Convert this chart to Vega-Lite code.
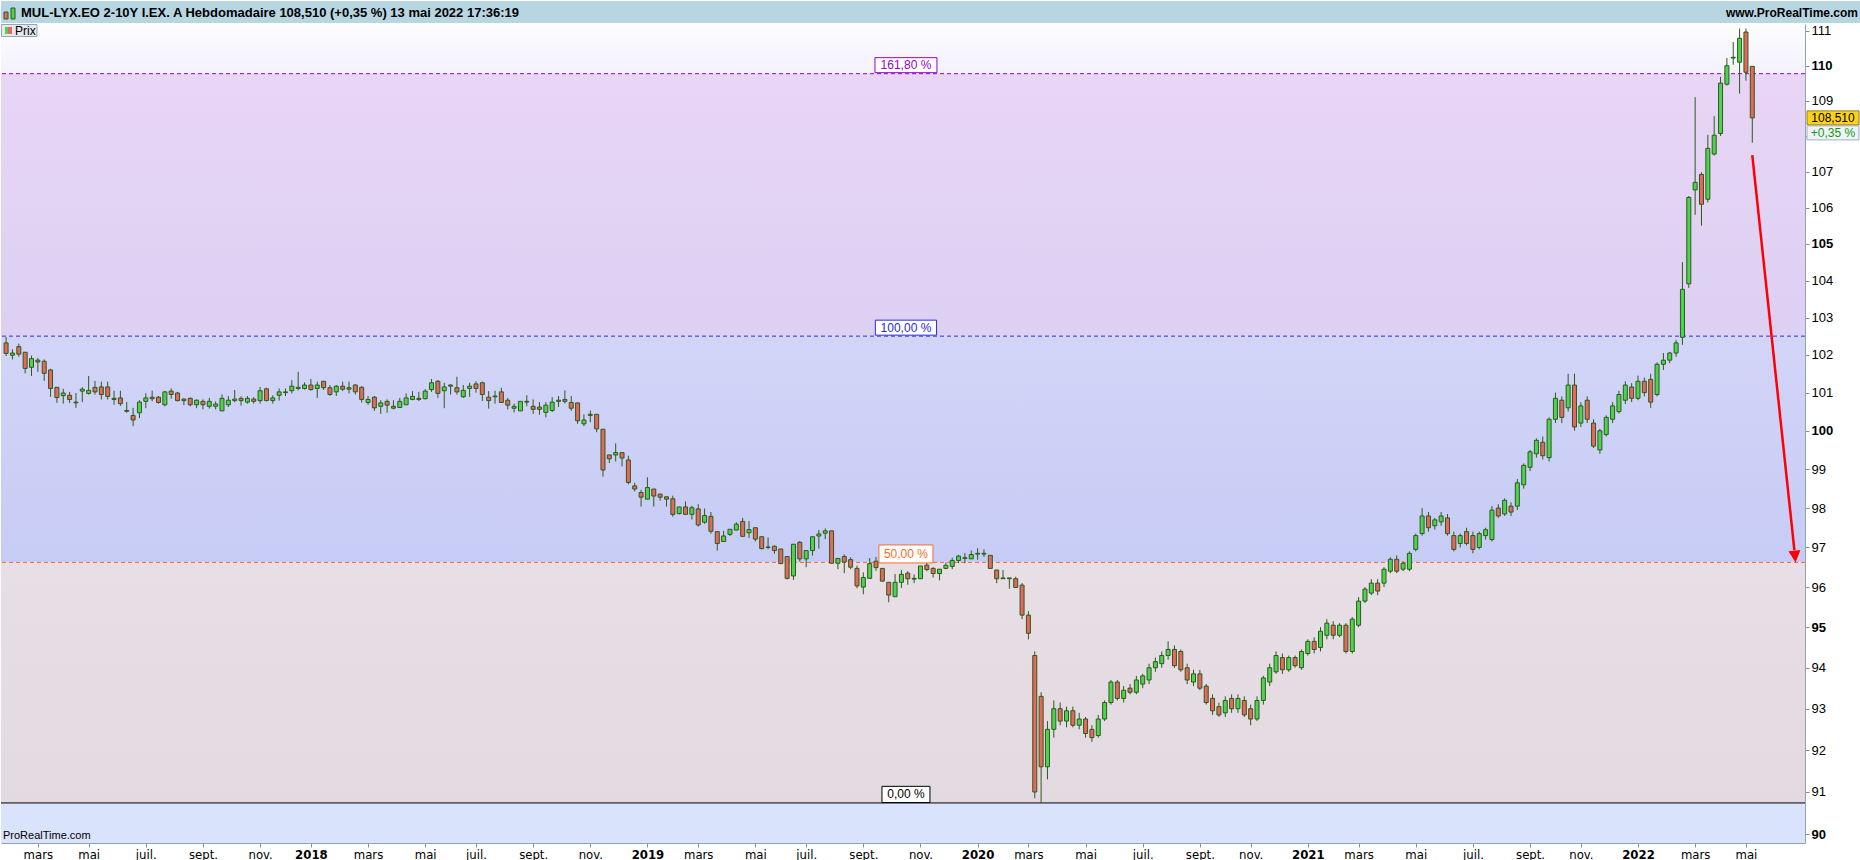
{
"$schema": "https://vega.github.io/schema/vega-lite/v6.json",
"padding": 0,
"autosize": {"type": "pad"},
"background": "#ffffff",
"spacing": 0,
"config": {"view": {"stroke": null}, "font": "Liberation Sans"},
"datasets": {
"candles": [
{"d":"2017-02-03","o":102.32,"h":102.48,"l":101.97,"c":102.04},
{"d":"2017-02-10","o":101.99,"h":102.15,"l":101.88,"c":102.05},
{"d":"2017-02-17","o":102.22,"h":102.30,"l":101.95,"c":102.02},
{"d":"2017-02-24","o":102.07,"h":102.07,"l":101.51,"c":101.64},
{"d":"2017-03-03","o":101.67,"h":101.98,"l":101.44,"c":101.90},
{"d":"2017-03-10","o":101.86,"h":101.92,"l":101.55,"c":101.81},
{"d":"2017-03-17","o":101.83,"h":101.88,"l":101.31,"c":101.51},
{"d":"2017-03-24","o":101.60,"h":101.63,"l":100.89,"c":101.11},
{"d":"2017-03-31","o":101.14,"h":101.14,"l":100.73,"c":100.87},
{"d":"2017-04-07","o":100.92,"h":101.10,"l":100.71,"c":100.99},
{"d":"2017-04-14","o":100.93,"h":101.02,"l":100.73,"c":100.82},
{"d":"2017-04-21","o":100.75,"h":100.99,"l":100.60,"c":100.73},
{"d":"2017-04-28","o":101.04,"h":101.14,"l":100.75,"c":101.09},
{"d":"2017-05-05","o":100.98,"h":101.44,"l":100.95,"c":101.06},
{"d":"2017-05-12","o":101.14,"h":101.31,"l":100.95,"c":101.02},
{"d":"2017-05-19","o":101.15,"h":101.29,"l":100.82,"c":100.95},
{"d":"2017-05-26","o":101.15,"h":101.29,"l":100.82,"c":100.90},
{"d":"2017-06-02","o":100.85,"h":101.05,"l":100.68,"c":100.82},
{"d":"2017-06-09","o":100.86,"h":101.05,"l":100.65,"c":100.71},
{"d":"2017-06-16","o":100.53,"h":100.75,"l":100.47,"c":100.51},
{"d":"2017-06-23","o":100.40,"h":100.60,"l":100.12,"c":100.28},
{"d":"2017-06-30","o":100.47,"h":100.80,"l":100.33,"c":100.75},
{"d":"2017-07-07","o":100.77,"h":100.98,"l":100.59,"c":100.86},
{"d":"2017-07-14","o":100.88,"h":101.05,"l":100.77,"c":100.84},
{"d":"2017-07-21","o":100.88,"h":100.91,"l":100.71,"c":100.74},
{"d":"2017-07-28","o":100.68,"h":101.04,"l":100.64,"c":101.02},
{"d":"2017-08-04","o":101.04,"h":101.11,"l":100.84,"c":100.95},
{"d":"2017-08-11","o":100.99,"h":101.02,"l":100.77,"c":100.79},
{"d":"2017-08-18","o":100.83,"h":100.85,"l":100.67,"c":100.79},
{"d":"2017-08-25","o":100.85,"h":100.87,"l":100.64,"c":100.68},
{"d":"2017-09-01","o":100.68,"h":100.82,"l":100.59,"c":100.80},
{"d":"2017-09-08","o":100.77,"h":100.82,"l":100.56,"c":100.68},
{"d":"2017-09-15","o":100.64,"h":100.86,"l":100.58,"c":100.77},
{"d":"2017-09-22","o":100.64,"h":100.77,"l":100.56,"c":100.70},
{"d":"2017-09-29","o":100.52,"h":100.95,"l":100.52,"c":100.85},
{"d":"2017-10-06","o":100.68,"h":100.91,"l":100.62,"c":100.80},
{"d":"2017-10-13","o":100.79,"h":101.07,"l":100.75,"c":100.83},
{"d":"2017-10-20","o":100.85,"h":100.90,"l":100.66,"c":100.79},
{"d":"2017-10-27","o":100.75,"h":100.91,"l":100.71,"c":100.85},
{"d":"2017-11-03","o":100.83,"h":100.88,"l":100.71,"c":100.77},
{"d":"2017-11-10","o":100.79,"h":101.15,"l":100.71,"c":101.05},
{"d":"2017-11-17","o":101.10,"h":101.13,"l":100.77,"c":100.79},
{"d":"2017-11-24","o":100.79,"h":100.93,"l":100.71,"c":100.86},
{"d":"2017-12-01","o":100.93,"h":101.11,"l":100.79,"c":101.02},
{"d":"2017-12-08","o":101.02,"h":101.11,"l":100.91,"c":101.00},
{"d":"2017-12-15","o":101.05,"h":101.33,"l":100.98,"c":101.17},
{"d":"2017-12-22","o":101.11,"h":101.55,"l":101.06,"c":101.14},
{"d":"2017-12-29","o":101.11,"h":101.27,"l":101.08,"c":101.20},
{"d":"2018-01-05","o":101.20,"h":101.36,"l":101.05,"c":101.08},
{"d":"2018-01-12","o":101.11,"h":101.29,"l":100.86,"c":101.20},
{"d":"2018-01-19","o":101.30,"h":101.30,"l":101.07,"c":101.13},
{"d":"2018-01-26","o":101.13,"h":101.20,"l":100.92,"c":100.95},
{"d":"2018-02-02","o":101.02,"h":101.20,"l":100.91,"c":101.17},
{"d":"2018-02-09","o":101.17,"h":101.29,"l":101.04,"c":101.09},
{"d":"2018-02-16","o":101.13,"h":101.29,"l":100.98,"c":101.09},
{"d":"2018-02-23","o":101.20,"h":101.22,"l":100.95,"c":101.02},
{"d":"2018-03-02","o":101.14,"h":101.17,"l":100.74,"c":100.82},
{"d":"2018-03-09","o":100.74,"h":100.91,"l":100.68,"c":100.82},
{"d":"2018-03-16","o":100.88,"h":100.91,"l":100.52,"c":100.60},
{"d":"2018-03-23","o":100.64,"h":100.80,"l":100.44,"c":100.73},
{"d":"2018-03-30","o":100.77,"h":100.82,"l":100.47,"c":100.67},
{"d":"2018-04-06","o":100.64,"h":100.80,"l":100.56,"c":100.59},
{"d":"2018-04-13","o":100.61,"h":100.86,"l":100.60,"c":100.77},
{"d":"2018-04-20","o":100.68,"h":100.98,"l":100.68,"c":100.86},
{"d":"2018-04-27","o":100.82,"h":101.04,"l":100.80,"c":100.90},
{"d":"2018-05-04","o":100.85,"h":101.02,"l":100.78,"c":100.82},
{"d":"2018-05-11","o":100.84,"h":101.09,"l":100.82,"c":101.04},
{"d":"2018-05-18","o":101.08,"h":101.36,"l":101.02,"c":101.26},
{"d":"2018-05-25","o":101.30,"h":101.33,"l":100.86,"c":100.98},
{"d":"2018-06-01","o":101.05,"h":101.26,"l":100.59,"c":101.15},
{"d":"2018-06-08","o":101.20,"h":101.22,"l":100.95,"c":101.17},
{"d":"2018-06-15","o":101.13,"h":101.42,"l":100.95,"c":101.02},
{"d":"2018-06-22","o":100.89,"h":101.20,"l":100.86,"c":101.06},
{"d":"2018-06-29","o":101.11,"h":101.26,"l":100.89,"c":101.17},
{"d":"2018-07-06","o":101.23,"h":101.30,"l":101.00,"c":101.11},
{"d":"2018-07-13","o":101.26,"h":101.29,"l":100.78,"c":100.95},
{"d":"2018-07-20","o":100.88,"h":101.04,"l":100.58,"c":100.79},
{"d":"2018-07-27","o":100.91,"h":101.05,"l":100.71,"c":100.89},
{"d":"2018-08-03","o":101.02,"h":101.13,"l":100.74,"c":100.74},
{"d":"2018-08-10","o":100.80,"h":100.86,"l":100.56,"c":100.67},
{"d":"2018-08-17","o":100.59,"h":100.71,"l":100.48,"c":100.64},
{"d":"2018-08-24","o":100.52,"h":100.77,"l":100.52,"c":100.77},
{"d":"2018-08-31","o":100.77,"h":100.93,"l":100.64,"c":100.75},
{"d":"2018-09-07","o":100.64,"h":100.82,"l":100.44,"c":100.56},
{"d":"2018-09-14","o":100.62,"h":100.75,"l":100.42,"c":100.56},
{"d":"2018-09-21","o":100.48,"h":100.75,"l":100.35,"c":100.67},
{"d":"2018-09-28","o":100.53,"h":100.88,"l":100.49,"c":100.75},
{"d":"2018-10-05","o":100.77,"h":100.91,"l":100.62,"c":100.80},
{"d":"2018-10-12","o":100.82,"h":101.06,"l":100.71,"c":100.77},
{"d":"2018-10-19","o":100.74,"h":100.91,"l":100.52,"c":100.59},
{"d":"2018-10-26","o":100.73,"h":100.73,"l":100.18,"c":100.26},
{"d":"2018-11-02","o":100.18,"h":100.43,"l":100.12,"c":100.28},
{"d":"2018-11-09","o":100.43,"h":100.53,"l":100.22,"c":100.40},
{"d":"2018-11-16","o":100.43,"h":100.43,"l":99.96,"c":100.05},
{"d":"2018-11-23","o":100.04,"h":100.04,"l":98.81,"c":98.98},
{"d":"2018-11-30","o":99.37,"h":99.37,"l":99.16,"c":99.27},
{"d":"2018-12-07","o":99.37,"h":99.67,"l":99.20,"c":99.43},
{"d":"2018-12-14","o":99.43,"h":99.43,"l":99.07,"c":99.29},
{"d":"2018-12-21","o":99.24,"h":99.35,"l":98.61,"c":98.66},
{"d":"2018-12-28","o":98.57,"h":98.65,"l":98.43,"c":98.49},
{"d":"2019-01-04","o":98.40,"h":98.47,"l":98.04,"c":98.28},
{"d":"2019-01-11","o":98.23,"h":98.79,"l":98.23,"c":98.53},
{"d":"2019-01-18","o":98.49,"h":98.49,"l":98.04,"c":98.31},
{"d":"2019-01-25","o":98.36,"h":98.36,"l":98.19,"c":98.28},
{"d":"2019-02-01","o":98.29,"h":98.29,"l":98.04,"c":98.23},
{"d":"2019-02-08","o":98.24,"h":98.32,"l":97.78,"c":97.84},
{"d":"2019-02-15","o":97.86,"h":98.03,"l":97.84,"c":98.03},
{"d":"2019-02-22","o":98.03,"h":98.17,"l":97.84,"c":97.84},
{"d":"2019-03-01","o":97.84,"h":98.06,"l":97.71,"c":98.01},
{"d":"2019-03-08","o":97.98,"h":98.10,"l":97.53,"c":97.57},
{"d":"2019-03-15","o":97.64,"h":97.99,"l":97.60,"c":97.81},
{"d":"2019-03-22","o":97.79,"h":97.90,"l":97.35,"c":97.41},
{"d":"2019-03-29","o":97.40,"h":97.40,"l":96.92,"c":97.10},
{"d":"2019-04-05","o":97.15,"h":97.42,"l":97.15,"c":97.29},
{"d":"2019-04-12","o":97.33,"h":97.46,"l":97.29,"c":97.46},
{"d":"2019-04-19","o":97.44,"h":97.64,"l":97.44,"c":97.59},
{"d":"2019-04-26","o":97.66,"h":97.75,"l":97.28,"c":97.28},
{"d":"2019-05-03","o":97.37,"h":97.67,"l":97.24,"c":97.45},
{"d":"2019-05-10","o":97.50,"h":97.50,"l":97.15,"c":97.21},
{"d":"2019-05-17","o":97.27,"h":97.29,"l":96.95,"c":96.97},
{"d":"2019-05-24","o":97.01,"h":97.25,"l":96.95,"c":97.00},
{"d":"2019-05-31","o":97.03,"h":97.05,"l":96.84,"c":96.92},
{"d":"2019-06-07","o":96.96,"h":96.96,"l":96.59,"c":96.59},
{"d":"2019-06-14","o":96.77,"h":96.77,"l":96.19,"c":96.22},
{"d":"2019-06-21","o":96.28,"h":97.08,"l":96.18,"c":97.08},
{"d":"2019-06-28","o":97.13,"h":97.16,"l":96.64,"c":96.71},
{"d":"2019-07-05","o":96.71,"h":96.92,"l":96.50,"c":96.92},
{"d":"2019-07-12","o":96.92,"h":97.27,"l":96.79,"c":97.27},
{"d":"2019-07-19","o":97.29,"h":97.44,"l":96.97,"c":97.34},
{"d":"2019-07-26","o":97.36,"h":97.48,"l":97.21,"c":97.42},
{"d":"2019-08-02","o":97.42,"h":97.42,"l":96.60,"c":96.60},
{"d":"2019-08-09","o":96.60,"h":96.72,"l":96.45,"c":96.72},
{"d":"2019-08-16","o":96.77,"h":96.82,"l":96.35,"c":96.63},
{"d":"2019-08-23","o":96.69,"h":96.75,"l":96.45,"c":96.50},
{"d":"2019-08-30","o":96.47,"h":96.54,"l":95.97,"c":96.03},
{"d":"2019-09-06","o":96.00,"h":96.37,"l":95.82,"c":96.24},
{"d":"2019-09-13","o":96.22,"h":96.73,"l":96.22,"c":96.59},
{"d":"2019-09-20","o":96.65,"h":96.76,"l":96.41,"c":96.49},
{"d":"2019-09-27","o":96.47,"h":96.47,"l":96.13,"c":96.15},
{"d":"2019-10-04","o":96.12,"h":96.12,"l":95.62,"c":95.80},
{"d":"2019-10-11","o":95.76,"h":96.33,"l":95.76,"c":96.12},
{"d":"2019-10-18","o":96.12,"h":96.43,"l":95.98,"c":96.32},
{"d":"2019-10-25","o":96.35,"h":96.40,"l":96.06,"c":96.21},
{"d":"2019-11-01","o":96.20,"h":96.32,"l":96.10,"c":96.22},
{"d":"2019-11-08","o":96.21,"h":96.53,"l":96.21,"c":96.53},
{"d":"2019-11-15","o":96.55,"h":96.62,"l":96.40,"c":96.44},
{"d":"2019-11-22","o":96.47,"h":96.50,"l":96.24,"c":96.34},
{"d":"2019-11-29","o":96.34,"h":96.45,"l":96.17,"c":96.45},
{"d":"2019-12-06","o":96.47,"h":96.62,"l":96.45,"c":96.55},
{"d":"2019-12-13","o":96.52,"h":96.74,"l":96.45,"c":96.67},
{"d":"2019-12-20","o":96.67,"h":96.81,"l":96.60,"c":96.78},
{"d":"2019-12-27","o":96.72,"h":96.86,"l":96.60,"c":96.74},
{"d":"2020-01-03","o":96.71,"h":96.92,"l":96.71,"c":96.82},
{"d":"2020-01-10","o":96.83,"h":96.98,"l":96.69,"c":96.85},
{"d":"2020-01-17","o":96.85,"h":96.95,"l":96.76,"c":96.83},
{"d":"2020-01-24","o":96.80,"h":96.80,"l":96.47,"c":96.47},
{"d":"2020-01-31","o":96.43,"h":96.43,"l":96.10,"c":96.21},
{"d":"2020-02-07","o":96.23,"h":96.43,"l":96.22,"c":96.21},
{"d":"2020-02-14","o":96.23,"h":96.23,"l":95.96,"c":96.21},
{"d":"2020-02-21","o":96.21,"h":96.26,"l":95.99,"c":95.99},
{"d":"2020-02-28","o":96.05,"h":96.10,"l":95.20,"c":95.30},
{"d":"2020-03-06","o":95.30,"h":95.40,"l":94.70,"c":94.85},
{"d":"2020-03-13","o":94.30,"h":94.40,"l":90.85,"c":91.00},
{"d":"2020-03-20","o":93.30,"h":93.40,"l":90.74,"c":91.60},
{"d":"2020-03-27","o":91.60,"h":92.70,"l":91.30,"c":92.50},
{"d":"2020-04-03","o":92.50,"h":93.20,"l":92.30,"c":93.00},
{"d":"2020-04-10","o":93.00,"h":93.15,"l":92.60,"c":92.70},
{"d":"2020-04-17","o":92.70,"h":93.05,"l":92.55,"c":92.95},
{"d":"2020-04-24","o":92.95,"h":93.05,"l":92.55,"c":92.60},
{"d":"2020-05-01","o":92.60,"h":92.90,"l":92.50,"c":92.75},
{"d":"2020-05-08","o":92.75,"h":92.80,"l":92.30,"c":92.40},
{"d":"2020-05-15","o":92.50,"h":92.60,"l":92.20,"c":92.30},
{"d":"2020-05-22","o":92.35,"h":92.85,"l":92.30,"c":92.75},
{"d":"2020-05-29","o":92.75,"h":93.20,"l":92.70,"c":93.15},
{"d":"2020-06-05","o":93.15,"h":93.70,"l":93.10,"c":93.65},
{"d":"2020-06-12","o":93.65,"h":93.70,"l":93.20,"c":93.25},
{"d":"2020-06-19","o":93.25,"h":93.55,"l":93.15,"c":93.45},
{"d":"2020-06-26","o":93.50,"h":93.60,"l":93.35,"c":93.40},
{"d":"2020-07-03","o":93.40,"h":93.80,"l":93.35,"c":93.70},
{"d":"2020-07-10","o":93.60,"h":93.85,"l":93.50,"c":93.80},
{"d":"2020-07-17","o":93.70,"h":94.10,"l":93.60,"c":94.00},
{"d":"2020-07-24","o":94.00,"h":94.25,"l":93.90,"c":94.15},
{"d":"2020-07-31","o":94.10,"h":94.40,"l":94.00,"c":94.30},
{"d":"2020-08-07","o":94.30,"h":94.65,"l":94.20,"c":94.45},
{"d":"2020-08-14","o":94.45,"h":94.55,"l":94.00,"c":94.05},
{"d":"2020-08-21","o":94.40,"h":94.45,"l":93.90,"c":93.95},
{"d":"2020-08-28","o":94.00,"h":94.10,"l":93.60,"c":93.70},
{"d":"2020-09-04","o":93.65,"h":93.95,"l":93.55,"c":93.85},
{"d":"2020-09-11","o":93.85,"h":93.95,"l":93.45,"c":93.50},
{"d":"2020-09-18","o":93.55,"h":93.60,"l":93.10,"c":93.15},
{"d":"2020-09-25","o":93.25,"h":93.35,"l":92.85,"c":92.95},
{"d":"2020-10-02","o":93.05,"h":93.15,"l":92.80,"c":92.85},
{"d":"2020-10-09","o":92.90,"h":93.30,"l":92.80,"c":93.20},
{"d":"2020-10-16","o":93.25,"h":93.35,"l":92.90,"c":93.00},
{"d":"2020-10-23","o":93.00,"h":93.35,"l":92.90,"c":93.25},
{"d":"2020-10-30","o":93.20,"h":93.30,"l":92.80,"c":92.85},
{"d":"2020-11-06","o":93.00,"h":93.10,"l":92.60,"c":92.75},
{"d":"2020-11-13","o":92.75,"h":93.30,"l":92.70,"c":93.20},
{"d":"2020-11-20","o":93.20,"h":93.80,"l":93.10,"c":93.75},
{"d":"2020-11-27","o":93.65,"h":94.10,"l":93.55,"c":94.00},
{"d":"2020-12-04","o":93.90,"h":94.40,"l":93.85,"c":94.30},
{"d":"2020-12-11","o":94.25,"h":94.35,"l":93.85,"c":93.95},
{"d":"2020-12-18","o":93.95,"h":94.30,"l":93.90,"c":94.25},
{"d":"2020-12-25","o":94.25,"h":94.30,"l":94.00,"c":94.05},
{"d":"2021-01-01","o":94.00,"h":94.45,"l":93.95,"c":94.40},
{"d":"2021-01-08","o":94.35,"h":94.70,"l":94.30,"c":94.65},
{"d":"2021-01-15","o":94.65,"h":94.75,"l":94.35,"c":94.45},
{"d":"2021-01-22","o":94.50,"h":95.00,"l":94.40,"c":94.90},
{"d":"2021-01-29","o":94.80,"h":95.20,"l":94.70,"c":95.10},
{"d":"2021-02-05","o":95.05,"h":95.15,"l":94.70,"c":94.80},
{"d":"2021-02-12","o":94.80,"h":95.10,"l":94.75,"c":95.05},
{"d":"2021-02-19","o":95.05,"h":95.10,"l":94.35,"c":94.40},
{"d":"2021-02-26","o":94.40,"h":95.25,"l":94.35,"c":95.20},
{"d":"2021-03-05","o":95.05,"h":95.75,"l":95.00,"c":95.65},
{"d":"2021-03-12","o":95.65,"h":96.00,"l":95.60,"c":95.95},
{"d":"2021-03-19","o":95.85,"h":96.20,"l":95.80,"c":96.10},
{"d":"2021-03-26","o":96.10,"h":96.20,"l":95.80,"c":95.90},
{"d":"2021-04-02","o":96.10,"h":96.50,"l":96.00,"c":96.45},
{"d":"2021-04-09","o":96.40,"h":96.75,"l":96.35,"c":96.70},
{"d":"2021-04-16","o":96.70,"h":96.80,"l":96.35,"c":96.40},
{"d":"2021-04-23","o":96.45,"h":96.65,"l":96.40,"c":96.60},
{"d":"2021-04-30","o":96.45,"h":96.90,"l":96.40,"c":96.85},
{"d":"2021-05-07","o":96.95,"h":97.35,"l":96.90,"c":97.30},
{"d":"2021-05-14","o":97.35,"h":98.00,"l":97.30,"c":97.80},
{"d":"2021-05-21","o":97.80,"h":97.90,"l":97.40,"c":97.50},
{"d":"2021-05-28","o":97.55,"h":97.75,"l":97.45,"c":97.70},
{"d":"2021-06-04","o":97.65,"h":97.90,"l":97.55,"c":97.80},
{"d":"2021-06-11","o":97.75,"h":97.85,"l":97.30,"c":97.35},
{"d":"2021-06-18","o":97.30,"h":97.40,"l":96.90,"c":96.95},
{"d":"2021-06-25","o":97.10,"h":97.35,"l":97.00,"c":97.30},
{"d":"2021-07-02","o":97.40,"h":97.50,"l":97.05,"c":97.10},
{"d":"2021-07-09","o":97.30,"h":97.40,"l":96.85,"c":96.95},
{"d":"2021-07-16","o":97.00,"h":97.40,"l":96.95,"c":97.35},
{"d":"2021-07-23","o":97.30,"h":97.50,"l":97.20,"c":97.45},
{"d":"2021-07-30","o":97.20,"h":98.05,"l":97.15,"c":97.95},
{"d":"2021-08-06","o":98.00,"h":98.10,"l":97.75,"c":97.80},
{"d":"2021-08-13","o":97.85,"h":98.25,"l":97.80,"c":98.20},
{"d":"2021-08-20","o":98.05,"h":98.15,"l":97.80,"c":97.90},
{"d":"2021-08-27","o":98.05,"h":98.75,"l":97.95,"c":98.65},
{"d":"2021-09-03","o":98.60,"h":99.15,"l":98.50,"c":99.10},
{"d":"2021-09-10","o":99.05,"h":99.50,"l":98.95,"c":99.45},
{"d":"2021-09-17","o":99.40,"h":99.80,"l":99.30,"c":99.75},
{"d":"2021-09-24","o":99.70,"h":99.85,"l":99.25,"c":99.35},
{"d":"2021-10-01","o":99.30,"h":100.35,"l":99.20,"c":100.30},
{"d":"2021-10-08","o":100.30,"h":101.00,"l":100.20,"c":100.85},
{"d":"2021-10-15","o":100.80,"h":100.90,"l":100.20,"c":100.35},
{"d":"2021-10-22","o":100.60,"h":101.50,"l":100.50,"c":101.20},
{"d":"2021-10-29","o":101.20,"h":101.50,"l":100.00,"c":100.10},
{"d":"2021-11-05","o":100.20,"h":100.75,"l":100.10,"c":100.65},
{"d":"2021-11-12","o":100.80,"h":100.90,"l":100.20,"c":100.30},
{"d":"2021-11-19","o":100.20,"h":100.30,"l":99.55,"c":99.60},
{"d":"2021-11-26","o":99.50,"h":100.05,"l":99.40,"c":100.00},
{"d":"2021-12-03","o":99.90,"h":100.40,"l":99.85,"c":100.35},
{"d":"2021-12-10","o":100.30,"h":100.75,"l":100.20,"c":100.65},
{"d":"2021-12-17","o":100.50,"h":101.05,"l":100.45,"c":100.95},
{"d":"2021-12-24","o":100.80,"h":101.30,"l":100.70,"c":101.20},
{"d":"2021-12-31","o":101.15,"h":101.25,"l":100.75,"c":100.85},
{"d":"2022-01-07","o":100.85,"h":101.45,"l":100.80,"c":101.30},
{"d":"2022-01-14","o":101.30,"h":101.40,"l":100.90,"c":101.00},
{"d":"2022-01-21","o":101.35,"h":101.50,"l":100.60,"c":100.75},
{"d":"2022-01-28","o":100.95,"h":101.80,"l":100.90,"c":101.75},
{"d":"2022-02-04","o":101.75,"h":102.05,"l":101.60,"c":101.86},
{"d":"2022-02-11","o":101.86,"h":102.08,"l":101.78,"c":102.05},
{"d":"2022-02-18","o":102.05,"h":102.40,"l":101.95,"c":102.32},
{"d":"2022-02-25","o":102.47,"h":104.50,"l":102.27,"c":103.76},
{"d":"2022-03-04","o":103.91,"h":106.32,"l":103.80,"c":106.28},
{"d":"2022-03-11","o":106.49,"h":109.10,"l":105.80,"c":106.70},
{"d":"2022-03-18","o":106.92,"h":106.98,"l":105.50,"c":106.09},
{"d":"2022-03-25","o":106.23,"h":108.03,"l":106.14,"c":107.65},
{"d":"2022-04-01","o":107.49,"h":108.56,"l":107.45,"c":108.02},
{"d":"2022-04-08","o":108.07,"h":109.68,"l":108.00,"c":109.50},
{"d":"2022-04-15","o":109.47,"h":110.22,"l":109.43,"c":110.00},
{"d":"2022-04-22","o":110.22,"h":110.68,"l":110.03,"c":110.24},
{"d":"2022-04-29","o":110.10,"h":111.07,"l":109.20,"c":110.79},
{"d":"2022-05-06","o":110.97,"h":111.07,"l":109.57,"c":109.81},
{"d":"2022-05-13","o":109.98,"h":109.98,"l":107.81,"c":108.51}
],
"levels": [
{"name":"161,80 %","v":109.77},
{"name":"100,00 %","v":102.50},
{"name":"50,00 %","v":96.62},
{"name":"0,00 %","v":90.74}
]
},
"vconcat": [
{
"width": 1860,
"height": 22,
"view": {"fill": "#b8d6e2", "stroke": null},
"data": {"values": [{"t": "MUL-LYX.EO 2-10Y I.EX. A Hebdomadaire 108,510 (+0,35 %) 13 mai 2022 17:36:19", "site": "www.ProRealTime.com"}]},
"layer": [
{"mark": {"type": "rect", "x": 3, "x2": 7, "y": 11, "y2": 18, "fill": "#e8665c", "stroke": "#2b5b1c", "strokeWidth": 1}},
{"mark": {"type": "rect", "x": 10, "x2": 14, "y": 7, "y2": 18, "fill": "#4fd24f", "stroke": "#2b5b1c", "strokeWidth": 1}},
{"mark": {"type": "rule", "x": 0, "x2": 1860, "y": 21.5, "y2": 21.5, "stroke": "#7d98aa", "strokeWidth": 1}, "encoding": {}},
{"mark": {"type": "text", "x": 20, "y": 12, "align": "left", "baseline": "middle", "fontWeight": "bold", "fontSize": 13, "font": "Liberation Sans", "color": "#000000"}, "encoding": {"text": {"field": "t"}}},
{"mark": {"type": "text", "x": 1857, "y": 12, "align": "right", "baseline": "middle", "fontWeight": "bold", "fontSize": 12, "font": "Liberation Sans", "color": "#000000"}, "encoding": {"text": {"field": "site"}}}
]
},
{
"width": 1804,
"height": 819,
"view": {"stroke": null},
"layer": [
{"data": {"values": [{"lo": 109.77, "hi": 111.203}]},
 "mark": {"type": "rect", "fill": {"gradient": "linear", "x1": 0, "y1": 0, "x2": 0, "y2": 1, "stops": [{"offset": 0, "color": "#fdfdff"}, {"offset": 1, "color": "#f3f1fc"}]}},
 "encoding": {"y": {"field": "lo", "type": "quantitative", "scale": {"type": "log", "domain": [89.796, 111.203], "nice": false, "zero": false, "padding": 0}}, "y2": {"field": "hi"}}},
{"data": {"values": [{"lo": 102.5, "hi": 109.77}]},
 "mark": {"type": "rect", "fill": {"gradient": "linear", "x1": 0, "y1": 0, "x2": 0, "y2": 1, "stops": [{"offset": 0, "color": "#e9d5f5"}, {"offset": 1, "color": "#dcd0f3"}]}},
 "encoding": {"y": {"field": "lo", "type": "quantitative"}, "y2": {"field": "hi"}}},
{"data": {"values": [{"lo": 96.62, "hi": 102.5}]},
 "mark": {"type": "rect", "fill": {"gradient": "linear", "x1": 0, "y1": 0, "x2": 0, "y2": 1, "stops": [{"offset": 0, "color": "#d2d5f7"}, {"offset": 1, "color": "#c7ccf6"}]}},
 "encoding": {"y": {"field": "lo", "type": "quantitative"}, "y2": {"field": "hi"}}},
{"data": {"values": [{"lo": 90.74, "hi": 96.62}]},
 "mark": {"type": "rect", "fill": {"gradient": "linear", "x1": 0, "y1": 0, "x2": 0, "y2": 1, "stops": [{"offset": 0, "color": "#e8dee6"}, {"offset": 1, "color": "#e2d9e1"}]}},
 "encoding": {"y": {"field": "lo", "type": "quantitative"}, "y2": {"field": "hi"}}},
{"data": {"values": [{"lo": 89.796, "hi": 90.74}]},
 "mark": {"type": "rect", "fill": "#d9e3fb"},
 "encoding": {"y": {"field": "lo", "type": "quantitative"}, "y2": {"field": "hi"}}},
{"data": {"name": "levels"},
 "mark": {"type": "rule", "strokeWidth": 1},
 "encoding": {
  "y": {"field": "v", "type": "quantitative"},
  "color": {"field": "name", "type": "nominal", "scale": {"domain": ["161,80 %", "100,00 %", "50,00 %", "0,00 %"], "range": ["#9400d0", "#2a2ae6", "#ff6a28", "#000000"]}, "legend": null},
  "strokeDash": {"field": "name", "type": "nominal", "scale": {"domain": ["161,80 %", "100,00 %", "50,00 %", "0,00 %"], "range": [[4, 3], [4, 3], [4, 3], [1, 0]]}, "legend": null}
 }},
{"data": {"name": "candles"},
 "mark": {"type": "rule", "stroke": "#2b5b1c", "strokeWidth": 1},
 "encoding": {
  "x": {"field": "d", "type": "temporal", "scale": {"type": "utc", "nice": false, "padding": 0, "domain": [{"year": 2017, "month": 1, "date": 28, "hours": 9, "utc": true}, {"year": 2022, "month": 7, "date": 10, "hours": 2, "minutes": 30, "utc": true}]},
   "axis": {"orient": "bottom", "title": null, "grid": false,
    "values": [
     {"year": 2017, "month": 3, "date": 10, "utc": true}, {"year": 2017, "month": 5, "date": 5, "utc": true}, {"year": 2017, "month": 7, "date": 7, "utc": true}, {"year": 2017, "month": 9, "date": 8, "utc": true}, {"year": 2017, "month": 11, "date": 10, "utc": true},
     {"year": 2018, "month": 1, "date": 5, "utc": true}, {"year": 2018, "month": 3, "date": 9, "utc": true}, {"year": 2018, "month": 5, "date": 11, "utc": true}, {"year": 2018, "month": 7, "date": 6, "utc": true}, {"year": 2018, "month": 9, "date": 7, "utc": true}, {"year": 2018, "month": 11, "date": 9, "utc": true},
     {"year": 2019, "month": 1, "date": 11, "utc": true}, {"year": 2019, "month": 3, "date": 8, "utc": true}, {"year": 2019, "month": 5, "date": 10, "utc": true}, {"year": 2019, "month": 7, "date": 5, "utc": true}, {"year": 2019, "month": 9, "date": 6, "utc": true}, {"year": 2019, "month": 11, "date": 8, "utc": true},
     {"year": 2020, "month": 1, "date": 10, "utc": true}, {"year": 2020, "month": 3, "date": 6, "utc": true}, {"year": 2020, "month": 5, "date": 8, "utc": true}, {"year": 2020, "month": 7, "date": 10, "utc": true}, {"year": 2020, "month": 9, "date": 11, "utc": true}, {"year": 2020, "month": 11, "date": 6, "utc": true},
     {"year": 2021, "month": 1, "date": 8, "utc": true}, {"year": 2021, "month": 3, "date": 5, "utc": true}, {"year": 2021, "month": 5, "date": 7, "utc": true}, {"year": 2021, "month": 7, "date": 9, "utc": true}, {"year": 2021, "month": 9, "date": 10, "utc": true}, {"year": 2021, "month": 11, "date": 5, "utc": true},
     {"year": 2022, "month": 1, "date": 7, "utc": true}, {"year": 2022, "month": 3, "date": 11, "utc": true}, {"year": 2022, "month": 5, "date": 6, "utc": true}
    ],
    "labelExpr": "utcmonth(datum.value) === 0 ? '' + utcyear(datum.value) : ['janv.','févr.','mars','avr.','mai','juin','juil.','août','sept.','oct.','nov.','déc.'][utcmonth(datum.value)]",
    "labelFontWeight": {"condition": {"test": "utcmonth(datum.value) === 0", "value": "bold"}, "value": "normal"},
    "labelFont": "Liberation Sans Narrow, DejaVu Sans Condensed, Liberation Sans",
    "labelFontSize": 13, "labelColor": "#000000", "labelPadding": 1, "labelOverlap": false, "labelFlush": false,
    "tickSize": 4, "tickColor": "#7890a0", "domainColor": "#8ea4b2"}},
  "y": {"field": "l", "type": "quantitative",
   "axis": {"orient": "right", "title": null, "grid": false,
    "values": [90, 91, 92, 93, 94, 95, 96, 97, 98, 99, 100, 101, 102, 103, 104, 105, 106, 107, 108, 109, 110, 111],
    "format": "d",
    "labelExpr": "datum.value === 108 ? '' : datum.label",
    "labelFontWeight": {"condition": {"test": "datum.value % 5 === 0", "value": "bold"}, "value": "normal"},
    "labelFont": "Liberation Sans", "labelFontSize": 13, "labelColor": "#000000", "labelPadding": 2, "labelOverlap": false, "labelFlush": false, "labelAlign": "left", "labelBaseline": "middle",
    "tickSize": 4, "tickColor": "#7890a0", "domainColor": "#8ea4b2"}},
  "y2": {"field": "h"}
 }},
{"data": {"name": "candles"},
 "mark": {"type": "bar", "width": 4, "stroke": "#2b5b1c", "strokeWidth": 1},
 "encoding": {
  "x": {"field": "d", "type": "temporal"},
  "y": {"field": "o", "type": "quantitative"},
  "y2": {"field": "c"},
  "fill": {"condition": {"test": "datum.c >= datum.o", "value": "#4fd24f"}, "value": "#e8665c"}
 }},
{"data": {"name": "levels"},
 "mark": {"type": "point", "filled": true, "fill": "#ffffff", "size": 3600, "strokeWidth": 1, "opacity": 1, "yOffset": -8.5},
 "encoding": {
  "x": {"datum": {"year": 2019, "month": 10, "date": 23, "utc": true}, "type": "temporal"},
  "y": {"field": "v", "type": "quantitative"},
  "shape": {"field": "name", "type": "nominal", "scale": {"domain": ["161,80 %", "100,00 %", "50,00 %", "0,00 %"], "range": ["M-1.033,-0.25L1.033,-0.25L1.033,0.25L-1.033,0.25Z", "M-1.02,-0.25L1.02,-0.25L1.02,0.25L-1.02,0.25Z", "M-0.9,-0.3L0.9,-0.3L0.9,0.3L-0.9,0.3Z", "M-0.8,-0.27L0.8,-0.27L0.8,0.27L-0.8,0.27Z"]}, "legend": null},
  "stroke": {"field": "name", "type": "nominal", "scale": {"domain": ["161,80 %", "100,00 %", "50,00 %", "0,00 %"], "range": ["#9400d0", "#2a2ae6", "#ff6a28", "#000000"]}, "legend": null}
 }},
{"data": {"name": "levels"},
 "mark": {"type": "text", "fontSize": 12, "font": "Liberation Sans", "baseline": "middle", "align": "center", "dy": -8.5},
 "encoding": {
  "x": {"datum": {"year": 2019, "month": 10, "date": 23, "utc": true}, "type": "temporal"},
  "y": {"field": "v", "type": "quantitative"},
  "text": {"field": "name"},
  "color": {"field": "name", "type": "nominal", "scale": {"domain": ["161,80 %", "100,00 %", "50,00 %", "0,00 %"], "range": ["#a010d0", "#2a2ae6", "#ff8a56", "#000000"]}, "legend": null}
 }},
{"data": {"values": [{"x1": "2022-05-13", "y1": 107.46, "x2": "2022-06-28T10:00:00Z", "y2": 96.93}]},
 "mark": {"type": "rule", "color": "#ff0000", "strokeWidth": 2.5},
 "encoding": {"x": {"field": "x1", "type": "temporal"}, "y": {"field": "y1", "type": "quantitative"}, "x2": {"field": "x2"}, "y2": {"field": "y2"}}},
{"data": {"values": [{"x": "2022-06-29T19:00:00Z", "y": 96.62}]},
 "mark": {"type": "point", "shape": "M0,0L-0.5,-1L0.5,-1Z", "size": 576, "filled": true, "color": "#ff0000", "opacity": 1, "angle": -6},
 "encoding": {"x": {"field": "x", "type": "temporal"}, "y": {"field": "y", "type": "quantitative"}}},
{"data": {"values": [{"p": "108,510", "v": 108.51}]},
 "layer": [
  {"mark": {"type": "point", "shape": "M-1,-0.27L1,-0.27L1,0.27L-1,0.27Z", "size": 2704, "filled": true, "fill": "#ffd21a", "stroke": "#8c7a2a", "strokeWidth": 1, "opacity": 1, "x": 1832}, "encoding": {"y": {"field": "v", "type": "quantitative"}}},
  {"mark": {"type": "text", "x": 1832, "align": "center", "baseline": "middle", "fontSize": 12, "font": "Liberation Sans", "color": "#000000"}, "encoding": {"y": {"field": "v", "type": "quantitative"}, "text": {"field": "p"}}}
 ]},
{"data": {"values": [{"p": "+0,35 %", "v": 108.51}]},
 "layer": [
  {"mark": {"type": "point", "shape": "M-1,-0.27L1,-0.27L1,0.27L-1,0.27Z", "size": 2704, "filled": true, "fill": "#eef3f7", "stroke": "#9fb2bf", "strokeWidth": 1, "opacity": 1, "x": 1832, "yOffset": 15}, "encoding": {"y": {"field": "v", "type": "quantitative"}}},
  {"mark": {"type": "text", "x": 1832, "dy": 15, "align": "center", "baseline": "middle", "fontSize": 12, "font": "Liberation Sans", "color": "#1a961a"}, "encoding": {"y": {"field": "v", "type": "quantitative"}, "text": {"field": "p"}}}
 ]},
{"data": {"values": [{"t": "Prix", "w": "ProRealTime.com"}]},
 "layer": [
  {"mark": {"type": "rect", "x": 0.5, "x2": 36, "y": 0.5, "y2": 12.5, "fill": "#e3e9ee", "stroke": "#95a6b2", "strokeWidth": 1}},
  {"mark": {"type": "rect", "x": 4, "x2": 7, "y": 3, "y2": 10, "fill": "#4fd24f"}},
  {"mark": {"type": "rect", "x": 7, "x2": 11, "y": 3, "y2": 10, "fill": "#e8665c"}},
  {"mark": {"type": "rule", "x": 0.75, "x2": 0.75, "y": 0, "y2": 838, "stroke": "#8ea4b2", "strokeWidth": 1.5}, "encoding": {}},
  {"mark": {"type": "text", "x": 14, "y": 7, "align": "left", "baseline": "middle", "fontSize": 12, "font": "Liberation Sans", "color": "#000000"}, "encoding": {"text": {"field": "t"}}},
  {"mark": {"type": "text", "x": 2, "y": 812, "align": "left", "baseline": "middle", "fontSize": 11, "font": "Liberation Sans", "color": "#000000"}, "encoding": {"text": {"field": "w"}}}
 ]}
]
}
]
}
